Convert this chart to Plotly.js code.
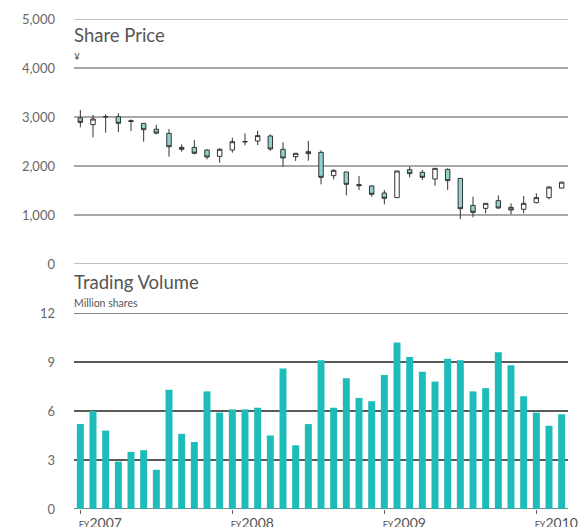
<!DOCTYPE html>
<html>
<head>
<meta charset="utf-8">
<script src="https://cdn.plot.ly/plotly-3.0.1.min.js"></script>
<style>html,body{margin:0;padding:0;background:#fff;}#chart{width:581px;height:527px;}</style>
</head>
<body>
<div id="chart"></div>
<script>
// Months FY2007 (Apr 2007) .. Jun 2010
var months = ["2007-04","2007-05","2007-06","2007-07","2007-08","2007-09","2007-10","2007-11","2007-12","2008-01","2008-02","2008-03",
              "2008-04","2008-05","2008-06","2008-07","2008-08","2008-09","2008-10","2008-11","2008-12","2009-01","2009-02","2009-03",
              "2009-04","2009-05","2009-06","2009-07","2009-08","2009-09","2009-10","2009-11","2009-12","2010-01","2010-02","2010-03",
              "2010-04","2010-05","2010-06"];
var openP  = [2980,2844,3000,3006,2925,2870,2750,2667,2380,2380,2327,2197,2327,2490,2510,2612,2340,2190,2292,2279,1803,1878,1620,1592,1449,1354,1925,1871,1735,1932,1748,1197,1136,1292,1156,1116,1252,1354,1550];
var highP  = [3143,3041,3054,3075,2952,2871,2843,2755,2443,2531,2341,2361,2578,2667,2721,2646,2483,2259,2510,2320,1932,1878,1796,1612,1510,1900,1986,1918,1952,1952,1748,1374,1238,1401,1238,1388,1442,1592,1680];
var lowP   = [2789,2585,2680,2694,2714,2497,2647,2190,2292,2238,2136,2068,2272,2422,2429,2313,1986,2102,2109,1626,1728,1401,1510,1374,1218,1350,1769,1714,1599,1510,918,953,1034,1129,1014,1034,1238,1320,1544];
var closeP = [2890,2959,3010,2871,2910,2740,2670,2394,2340,2260,2184,2341,2496,2500,2620,2347,2163,2259,2251,1769,1912,1626,1600,1422,1340,1898,1843,1769,1952,1701,1129,1054,1238,1143,1102,1238,1354,1571,1670];
var volume = [5.2,6.0,4.8,2.9,3.5,3.6,2.4,7.3,4.6,4.1,7.2,5.9,6.1,6.1,6.2,4.5,8.6,3.9,5.2,9.1,6.2,8.0,6.8,6.6,8.2,10.2,9.3,8.4,7.8,9.2,9.1,7.2,7.4,9.6,8.8,6.9,5.9,5.1,5.8];
var fyTickMonths = ["2007-04","2008-04","2009-04","2010-04"];
var fyTickYears = ["2007","2008","2009","2010"];
var priceTicks = [0,1000,2000,3000,4000,5000];
var volumeTicks = [0,3,6,9,12];

var fyLabels = fyTickYears.map(function(y){ return '<span style="font-size:9px">FY</span>' + y; });

var font = "Lato, 'Open Sans', sans-serif";

var candle = {
  type: 'candlestick',
  x: months, open: openP, high: highP, low: lowP, close: closeP,
  xaxis: 'x', yaxis: 'y',
  increasing: {fillcolor: '#ffffff', line: {color: '#333333', width: 1}},
  decreasing: {fillcolor: '#8fd3cf', line: {color: '#333333', width: 1}},
  whiskerwidth: 0,
  hoverinfo: 'skip'
};
var bars = {
  type: 'bar', x: months, y: volume, xaxis: 'x2', yaxis: 'y2',
  marker: {color: '#1dbcb8'}, hoverinfo: 'skip'
};

function edgeLine(yref, val, color) {
  return {type: 'line', xref: 'paper', yref: yref, x0: 0, x1: 1, y0: val, y1: val,
          layer: 'below', line: {color: color, width: 1.5}};
}

var layout = {
  width: 581, height: 527,
  margin: {l: 74, r: 13, t: 19, b: 18},
  paper_bgcolor: '#fff', plot_bgcolor: '#fff',
  showlegend: false,
  font: {family: font, color: '#666', size: 13},
  boxgap: 0.5,
  bargap: 0.45,
  xaxis: {
    type: 'category', domain: [0, 1], anchor: 'y', range: [-0.5, 38.5],
    showticklabels: false, showgrid: false, zeroline: false, showline: false, ticks: '',
    rangeslider: {visible: false}, fixedrange: true
  },
  yaxis: {
    domain: [0.5, 1], range: [0, 5000], tickvals: priceTicks, tickformat: ',d',
    showgrid: true, gridcolor: '#a8a8a8', gridwidth: 1.5, zeroline: false, showline: false,
    ticks: '', ticklabelstandoff: 18, tickfont: {size: 13, color: '#666'}, fixedrange: true
  },
  xaxis2: {
    type: 'category', domain: [0, 1], anchor: 'y2', range: [-0.5, 38.5],
    tickvals: fyTickMonths, ticktext: fyLabels,
    ticks: 'outside', ticklen: 4, tickcolor: '#666', tickwidth: 1,
    ticklabelshift: 20, ticklabelstandoff: -3, ticklabeloverflow: 'allow',
    tickfont: {size: 14, color: '#555'},
    showgrid: false, zeroline: false, showline: false, fixedrange: true
  },
  yaxis2: {
    domain: [0, 0.4], range: [0, 12], tickvals: volumeTicks,
    showgrid: true, gridcolor: '#5a5a5a', gridwidth: 1.5, zeroline: false, showline: false,
    ticks: '', ticklabelstandoff: 18, tickfont: {size: 13, color: '#666'}, fixedrange: true
  },
  shapes: [
    edgeLine('y', priceTicks[0], '#a8a8a8'),
    edgeLine('y', priceTicks[priceTicks.length - 1], '#a8a8a8'),
    edgeLine('y2', volumeTicks[0], '#5a5a5a'),
    edgeLine('y2', volumeTicks[volumeTicks.length - 1], '#5a5a5a')
  ],
  annotations: [
    {text: 'Share Price', xref: 'paper', yref: 'paper', x: 0, y: 0.967, xanchor: 'left', yanchor: 'middle', showarrow: false, xshift: -2, font: {size: 18.5, color: '#555', family: font}},
    {text: '¥', xref: 'paper', yref: 'paper', x: 0, y: 0.9245, xanchor: 'left', yanchor: 'middle', showarrow: false, xshift: -2, font: {size: 10, color: '#555', family: font}},
    {text: 'Trading Volume', xref: 'paper', yref: 'paper', x: 0, y: 0.4639, xanchor: 'left', yanchor: 'middle', showarrow: false, xshift: -2, font: {size: 18.5, color: '#555', family: font}},
    {text: 'Million shares', xref: 'paper', yref: 'paper', x: 0, y: 0.421, xanchor: 'left', yanchor: 'middle', showarrow: false, xshift: -2, font: {size: 10.5, color: '#555', family: font}}
  ]
};

Plotly.newPlot('chart', [candle, bars], layout, {displayModeBar: false, staticPlot: true});
</script>
</body>
</html>
